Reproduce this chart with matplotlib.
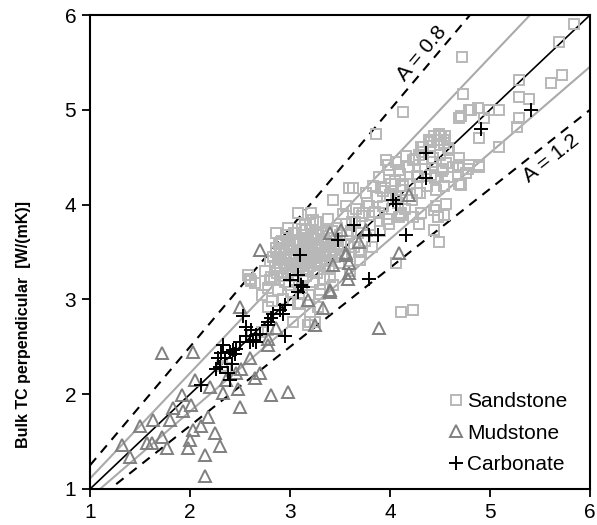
import numpy as np
import matplotlib
matplotlib.use("Agg")
from matplotlib import pyplot as plt
from matplotlib.lines import Line2D

plt.rcParams['font.family'] = ['Liberation Sans', 'DejaVu Sans']

# measured points (x, y) per lithology
sandstone = [
    # dense core
    (2.72,3.05),(2.75,3.30),(2.78,3.12),(2.80,3.40),(2.82,2.98),(2.84,3.22),(2.86,3.50),(2.88,3.10),
    (2.90,3.33),(2.92,3.62),(2.93,3.00),(2.95,3.18),(2.96,3.45),(2.98,3.28),(3.00,3.55),(3.01,3.08),
    (3.02,3.38),(3.04,3.70),(3.05,3.20),(3.06,3.48),(3.08,2.95),(3.09,3.30),(3.10,3.60),(3.12,3.12),
    (3.13,3.42),(3.15,3.78),(3.16,3.25),(3.17,3.52),(3.19,3.05),(3.20,3.35),(3.21,3.66),(3.23,3.18),
    (3.24,3.46),(3.26,3.82),(3.27,3.28),(3.28,3.58),(3.30,3.10),(3.31,3.40),(3.33,3.70),(3.34,3.22),
    (3.36,3.52),(3.38,3.85),(3.39,3.32),(3.41,3.62),(3.43,3.15),(3.45,3.45),(3.47,3.75),(3.49,3.38),
    (3.51,3.58),(3.53,3.90),(3.55,3.48),(3.57,3.68),(3.60,3.30),(3.62,3.82),(3.64,3.55),(3.66,3.95),
    (3.68,3.70),(3.70,3.42),(3.72,3.88),(3.75,3.62),(3.77,4.02),(3.80,3.78),(3.82,3.55),(3.85,3.92),
    (3.87,4.08),(3.90,3.72),(3.93,3.98),(3.95,4.18),(3.97,3.85),(4.00,4.10),(4.02,3.95),(4.05,4.25),
    (4.08,4.02),(4.10,4.32),(4.12,4.15),(4.15,3.95),(4.18,4.40),(4.20,4.22),(4.22,4.05),(4.25,4.48),
    (4.27,4.30),(4.30,4.12),(4.32,4.55),(4.35,4.38),(4.37,4.20),(4.40,4.62),(4.42,4.45),(4.45,4.28),
    (4.47,4.68),(4.50,4.52),(4.52,4.35),(4.55,4.72),(4.58,4.60),
    (2.85,3.35),(2.87,3.28),(2.91,3.48),(2.94,3.38),(2.97,3.58),(2.99,3.15),(3.03,3.25),(3.07,3.52),
    (3.11,3.35),(3.14,3.65),(3.18,3.44),(3.22,3.55),(3.25,3.38),(3.29,3.48),(3.32,3.60),(3.35,3.35),
    (3.37,3.72),(3.40,3.50),(3.44,3.65),(3.48,3.55),(2.89,3.58),(2.96,3.68),(3.05,3.62),(3.12,3.74),
    (3.20,3.80),(2.80,3.20),(2.83,3.45),(3.00,3.42),(3.10,3.45),(3.26,3.68),
    (2.88,3.42),(2.92,3.25),(2.94,3.52),(2.97,3.35),(2.99,3.48),(3.01,3.30),(3.03,3.52),(3.04,3.42),
    (3.06,3.34),(3.08,3.58),(3.09,3.40),(3.11,3.52),(3.13,3.30),(3.14,3.56),(3.15,3.38),(3.17,3.62),
    (3.18,3.32),(3.19,3.50),(3.21,3.42),(3.22,3.64),(3.24,3.30),(3.25,3.52),(3.27,3.44),(3.28,3.70),
    (3.30,3.36),(3.31,3.55),(3.33,3.46),(3.34,3.64),(3.36,3.42),(3.38,3.58),(3.40,3.40),(3.42,3.72),
    (3.44,3.52),(3.46,3.62),(3.50,3.68),(3.52,3.46),(3.56,3.80),(3.58,3.58),(3.61,3.72),(3.65,3.82),
    # edges of the cloud
    (2.60,3.22),(2.61,3.19),(2.58,3.26),(2.65,3.17),(2.81,3.24),(2.86,3.54),(2.91,3.61),(2.98,3.75),
    (3.21,3.91),(3.59,4.17),(3.08,3.91),(3.23,3.84),(3.16,3.73),(3.03,3.63),(2.90,3.54),(2.86,3.70),
    (3.69,3.91),(3.43,4.05),(3.63,4.17),(3.91,4.17),(3.73,3.91),(3.79,3.98),(3.56,3.98),
    (3.03,2.76),(3.20,2.76),(3.18,2.73),(3.25,2.76),(3.10,2.96),(3.20,2.87),(3.30,3.06),(3.40,3.24),
    (2.78,2.92),(3.28,2.92),(3.69,3.50),(3.71,3.50),(3.99,3.80),(4.11,3.89),(4.29,3.80),(4.44,3.94),
    (4.54,3.89),(4.49,3.61),(4.06,3.38),(4.11,2.87),(4.23,2.89),
    (2.32,2.30),(2.36,2.28),(2.62,2.62),(2.72,2.66),(2.78,2.68),
    # upper range
    (3.86,4.75),(4.13,4.98),(4.72,5.56),(4.73,5.17),(4.79,5.00),(4.69,4.91),(4.99,5.00),(5.09,5.00),
    (4.88,5.02),(4.94,4.91),(4.81,5.00),(4.71,4.93),(5.29,5.31),(5.29,5.14),(5.39,5.11),(5.29,4.91),
    (5.27,4.82),(4.89,4.70),(5.09,4.61),(4.54,4.68),(4.59,4.58),(4.69,4.42),(4.79,4.42),(4.89,4.42),
    (4.51,4.72),(4.54,4.65),(4.41,4.66),(4.31,4.61),(4.29,4.52),(4.43,4.49),(4.69,4.49),(4.63,4.40),
    (4.53,4.38),(4.46,4.29),(4.58,4.29),(4.78,4.38),(4.89,4.40),(4.69,4.22),(4.54,4.20),(3.96,4.47),
    (4.06,4.45),(4.16,4.51),(4.19,4.40),(4.09,4.36),(3.99,4.36),(3.89,4.29),(4.28,4.29),(4.41,4.31),
    (4.01,4.22),(3.83,4.20),(4.13,4.20),(4.46,4.15),(3.76,4.12),(3.93,4.14),(4.06,4.08),(4.27,4.12),
    (4.46,3.98),(4.11,3.91),(3.98,4.42),(4.23,4.47),(4.33,4.61),(4.39,4.68),(4.44,4.72),(4.49,4.75),
    (4.56,4.44),(4.68,4.40),(4.76,4.33),(4.71,4.21),(4.56,4.01),(4.48,3.87),(4.31,3.91),(4.23,3.87),
    (4.09,3.87),(4.44,3.73),(4.29,3.80),(3.89,3.91),
    (5.84,5.91),(5.69,5.72),(5.72,5.37),(5.61,5.28),
]

mudstone = [
    (1.72,2.43),(2.03,2.44),(2.50,2.92),(2.05,2.15),(1.92,1.99),(1.93,1.82),(2.01,1.89),(1.80,1.73),
    (1.63,1.73),(1.50,1.66),(1.32,1.46),(1.40,1.34),(1.57,1.48),(1.62,1.48),(1.72,1.55),(1.77,1.43),
    (1.98,1.43),(2.00,1.52),(2.03,1.62),(2.11,1.66),(2.18,1.76),(2.25,1.59),(2.30,1.45),(2.15,1.36),
    (2.15,1.14),(2.20,2.08),(2.33,2.01),(2.48,2.06),(2.50,1.87),(2.51,2.27),(2.36,2.15),(2.65,2.17),
    (2.70,2.22),(2.81,1.99),(2.98,2.02),(2.60,2.38),(2.78,2.52),(2.78,2.58),(2.86,2.70),(3.25,2.73),
    (3.33,2.91),(3.40,3.08),(3.18,2.99),(3.43,3.36),(3.56,3.47),(3.59,3.38),(3.59,3.28),(3.58,3.21),
    (3.89,2.70),(4.09,3.49),(2.70,3.52),(3.40,3.70),(3.51,3.73),(3.69,3.61),(3.76,3.73),(4.19,4.10),
    (3.56,3.49),(3.40,3.10),(2.46,2.22),(1.83,1.85),
]

carbonate = [
    (3.10,3.47),(3.08,3.26),(3.00,3.20),(3.11,3.15),(3.08,3.08),(3.13,3.13),(2.95,2.94),(2.90,2.89),
    (2.93,2.85),(2.83,2.85),(2.81,2.80),(2.78,2.73),(2.53,2.82),(2.56,2.71),(2.61,2.68),(2.56,2.61),
    (2.63,2.57),(2.66,2.62),(2.60,2.55),(2.95,2.61),(2.46,2.48),(2.43,2.47),(2.40,2.45),(2.31,2.43),
    (2.35,2.38),(2.30,2.29),(2.26,2.27),(2.38,2.22),(2.40,2.15),(2.11,2.10),(3.79,3.22),(2.70,2.64),
    (2.78,2.76),(3.48,3.63),(3.64,3.78),(3.79,3.68),(3.88,3.68),(4.03,4.05),(4.06,4.01),(4.36,4.54),
    (4.36,4.28),(4.91,4.80),(5.41,5.00),(4.16,3.68),(2.33,2.52),(2.28,2.38),(2.42,2.32),(2.50,2.55),
    (2.66,2.55),(2.45,2.42),
]

# reference lines y = x / A
guide_A = [0.9, 1.1]
bound_A = [0.8, 1.2]

fig = plt.figure(figsize=(5.97, 5.25), dpi=100)
ax = fig.add_axes([0.1508, 0.0686, 0.8375, 0.9028])

xl = np.array([1.0, 6.0])
ax.plot(xl, xl, color='black', lw=1.2, zorder=2)
for a in guide_A:
    ax.plot(xl, xl / a, color='#aaaaaa', lw=1.5, zorder=1)
for a in bound_A:
    ax.plot(xl, xl / a, color='black', lw=1.5, ls=(0, (4.5, 3.5)), zorder=1)

sx, sy = np.array(sandstone).T
mx, my = np.array(mudstone).T
cx, cy = np.array(carbonate).T
ax.plot(sx, sy, ls='none', marker='s', ms=7.5, mfc='none', mec='#b8b8b8', mew=1.4, zorder=3)
ax.plot(mx, my, ls='none', marker='^', ms=8, mfc='none', mec='#808080', mew=1.4, zorder=4)
ax.plot(cx, cy, ls='none', marker='+', ms=10, mec='black', mew=1.4, zorder=5)

ax.text(4.32, 5.59, 'A = 0.8', rotation=49.8, fontsize=15, ha='center', va='center',
        rotation_mode='anchor')
ax.text(5.61, 4.49, 'A = 1.2', rotation=38.2, fontsize=15, ha='center', va='center',
        rotation_mode='anchor')

ax.set_xlim(1, 6)
ax.set_ylim(1, 6)
ax.set_xticks([1, 2, 3, 4, 5, 6])
ax.set_yticks([1, 2, 3, 4, 5, 6])
ax.tick_params(direction='out', length=6, width=1.3, labelsize=15, pad=4,
               top=False, right=False)
for s in ax.spines.values():
    s.set_linewidth(1.5)

ax.set_ylabel('Bulk TC perpendicular  [W/(mK)]', fontsize=11.5, fontweight='bold')
ax.yaxis.set_label_coords(-0.118, 0.346)

handles = [
    Line2D([], [], ls='none', marker='s', ms=7.5, mfc='none', mec='#b8b8b8', mew=1.4),
    Line2D([], [], ls='none', marker='^', ms=8, mfc='none', mec='#808080', mew=1.4),
    Line2D([], [], ls='none', marker='+', ms=10, mec='black', mew=1.4),
]
ax.legend(handles, ['Sandstone', 'Mudstone', 'Carbonate'], loc='lower right',
          bbox_to_anchor=(0.98, 0.005), frameon=False, fontsize=15,
          handlelength=0.8, handletextpad=0.15, labelspacing=0.6, borderaxespad=0.2)

fig.savefig('out.png', dpi=100)
